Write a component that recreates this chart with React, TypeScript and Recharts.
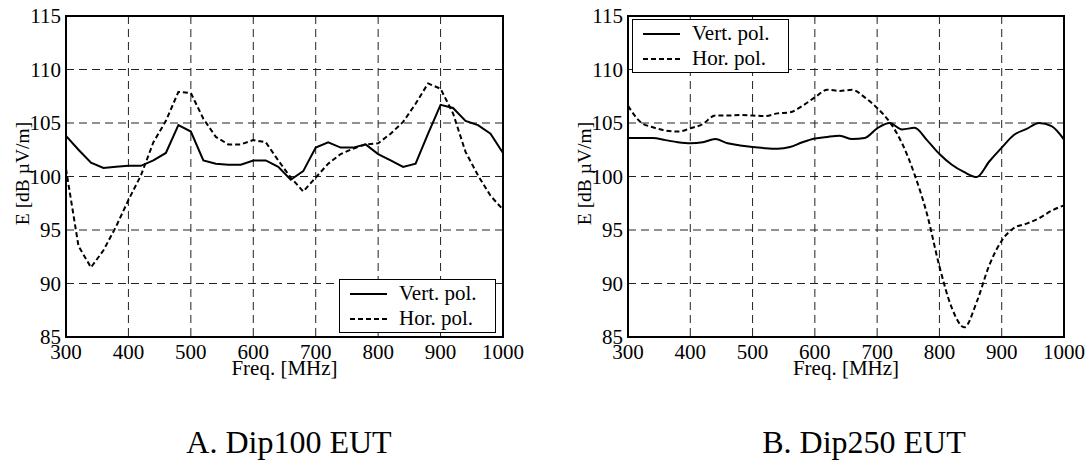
import React from "react";
import {
  LineChart,
  Line,
  XAxis,
  YAxis,
  CartesianGrid,
  Legend,
  ReferenceArea,
} from "recharts";

const freq = [
  300, 320, 340, 360, 380, 400, 420, 440, 460, 480, 500, 520, 540, 560, 580, 600, 620, 640,
  660, 680, 700, 720, 740, 760, 780, 800, 820, 840, 860, 880, 900, 920, 940, 960, 980, 1000,
];

const dip100Vert = [
  103.8, 102.5, 101.3, 100.8, 100.9, 101.0, 101.0, 101.5, 102.2, 104.8, 104.2, 101.5, 101.2, 101.1,
  101.1, 101.5, 101.5, 100.9, 99.7, 100.5, 102.7, 103.2, 102.7, 102.7, 103.0, 102.1, 101.5, 100.9,
  101.2, 104.0, 106.7, 106.4, 105.2, 104.8, 104.0, 102.2,
];
const dip100Hor = [
  100.7, 93.5, 91.5, 93.1, 95.3, 97.8, 100.1, 103.2, 105.2, 107.9, 107.8, 105.4, 103.7, 103.0,
  103.0, 103.4, 103.2, 101.5, 99.9, 98.6, 99.9, 101.2, 102.1, 102.6, 103.0, 103.1, 104.0, 105.1,
  106.8, 108.7, 108.2, 105.9, 102.3, 100.1, 98.2, 96.9,
];

const dip250Vert = [
  103.6, 103.6, 103.6, 103.4, 103.2, 103.1, 103.2, 103.5, 103.1, 102.9, 102.75, 102.65, 102.6,
  102.75, 103.2, 103.55, 103.7, 103.8, 103.5, 103.6, 104.5, 105.0, 104.4, 104.55, 103.4, 102.1,
  101.1, 100.4, 99.95, 101.4, 102.7, 103.9, 104.45, 105.0, 104.7, 103.45,
];
const dip250Hor = [
  106.6, 105.1, 104.6, 104.3, 104.2, 104.5, 104.9, 105.7, 105.7, 105.75, 105.7, 105.65, 105.9,
  106.0, 106.6, 107.4, 108.1, 108.0, 108.1, 107.4, 106.4, 105.1, 103.1, 100.2, 96.5, 91.6, 87.7,
  85.9, 88.3, 91.7, 94.0, 95.2, 95.6, 96.1, 96.8, 97.3,
];

const xTicks = [300, 400, 500, 600, 700, 800, 900, 1000];
const yTicks = [85, 90, 95, 100, 105, 110, 115];
const legendOrder = ["Vert. pol.", "Hor. pol."];

const serif = "'Liberation Serif', 'Times New Roman', serif";

function PolLegend({ payload }: any) {
  const items = [...(payload || [])].sort(
    (a: any, b: any) => legendOrder.indexOf(a.value) - legendOrder.indexOf(b.value)
  );
  return (
    <div
      style={{
        width: 157,
        height: 54,
        boxSizing: "border-box",
        border: "1.5px solid #000",
        background: "#fff",
        fontFamily: serif,
        fontSize: 21,
        paddingTop: 1,
      }}
    >
      {items.map((entry: any) => (
        <div
          key={entry.value}
          style={{ display: "flex", alignItems: "center", height: 25, paddingLeft: 10 }}
        >
          <svg width={37} height={4}>
            <line
              x1={0}
              y1={2}
              x2={37}
              y2={2}
              stroke="#000"
              strokeWidth={2}
              strokeDasharray={entry.payload?.strokeDasharray}
            />
          </svg>
          <span style={{ marginLeft: 12, lineHeight: "25px" }}>{entry.value}</span>
        </div>
      ))}
    </div>
  );
}

function YLabel({ viewBox }: any) {
  const x = viewBox.x + viewBox.width - 44;
  const y = viewBox.y + viewBox.height / 2 - 3;
  return (
    <text
      x={x}
      y={y}
      transform={`rotate(-90, ${x}, ${y})`}
      textAnchor="middle"
      dominantBaseline="central"
      fontFamily={serif}
      fontSize={19.5}
      fill="#000"
    >
      E [dB µV/m]
    </text>
  );
}

function XLabel({ viewBox }: any) {
  return (
    <text
      x={viewBox.x + viewBox.width / 2}
      y={viewBox.y + viewBox.height - 2}
      textAnchor="middle"
      fontFamily={serif}
      fontSize={21}
      fill="#000"
    >
      Freq. [MHz]
    </text>
  );
}

interface PanelProps {
  vert: number[];
  hor: number[];
  left: number;
  margin: { top: number; right: number; bottom: number; left: number };
  legendAt: { left: number; top: number };
  curve: "linear" | "monotone";
}

function Panel({ vert, hor, left, margin, legendAt, curve }: PanelProps) {
  const data = freq.map((f, i) => ({ f, vert: vert[i], hor: hor[i] }));
  return (
    <div style={{ position: "absolute", left, top: 0 }}>
      <LineChart width={544} height={400} data={data} margin={margin}>
        <CartesianGrid stroke="#222" strokeDasharray="8 5" strokeWidth={1} />
        <XAxis
          dataKey="f"
          type="number"
          domain={[300, 1000]}
          ticks={xTicks}
          height={40}
          axisLine={false}
          tickLine={false}
          tickSize={5}
          tickMargin={2}
          tick={{ fill: "#000", fontSize: 21, fontFamily: serif }}
          label={{ content: XLabel }}
        />
        <YAxis
          type="number"
          domain={[85, 115]}
          ticks={yTicks}
          width={60}
          axisLine={false}
          tickLine={false}
          tickSize={3}
          tickMargin={2}
          tick={{ fill: "#000", fontSize: 21, fontFamily: serif }}
          label={{ content: YLabel }}
        />
        <Line
          type={curve}
          dataKey="vert"
          name="Vert. pol."
          stroke="#000"
          strokeWidth={2}
          dot={false}
          isAnimationActive={false}
        />
        <Line
          type={curve}
          dataKey="hor"
          name="Hor. pol."
          stroke="#000"
          strokeWidth={2}
          strokeDasharray="5 3"
          dot={false}
          isAnimationActive={false}
        />
        <ReferenceArea
          x1={300}
          x2={1000}
          y1={85}
          y2={115}
          fill="none"
          stroke="#000"
          strokeWidth={2}
        />
        <Legend
          layout="vertical"
          align="center"
          verticalAlign="middle"
          content={PolLegend}
          wrapperStyle={{ left: legendAt.left, top: legendAt.top, width: 157, height: 54 }}
        />
      </LineChart>
    </div>
  );
}

export default function App() {
  return (
    <div
      style={{
        position: "absolute",
        left: 0,
        top: 0,
        width: 1088,
        height: 462,
        background: "#fff",
        fontFamily: serif,
      }}
    >
      <Panel
        vert={dip100Vert}
        hor={dip100Hor}
        left={0}
        margin={{ top: 16, right: 41, bottom: 23, left: 6 }}
        legendAt={{ left: 339, top: 279 }}
        curve="linear"
      />
      <Panel
        vert={dip250Vert}
        hor={dip250Hor}
        left={544}
        margin={{ top: 16, right: 24, bottom: 23, left: 24 }}
        legendAt={{ left: 88, top: 19 }}
        curve="monotone"
      />
      <svg
        width={1088}
        height={462}
        style={{ position: "absolute", left: 0, top: 0, pointerEvents: "none" }}
      >
        <text x={289} y={453} textAnchor="middle" fontFamily={serif} fontSize={32} fill="#000">
          A. Dip100 EUT
        </text>
        <text x={864} y={453} textAnchor="middle" fontFamily={serif} fontSize={32} fill="#000">
          B. Dip250 EUT
        </text>
      </svg>
    </div>
  );
}
